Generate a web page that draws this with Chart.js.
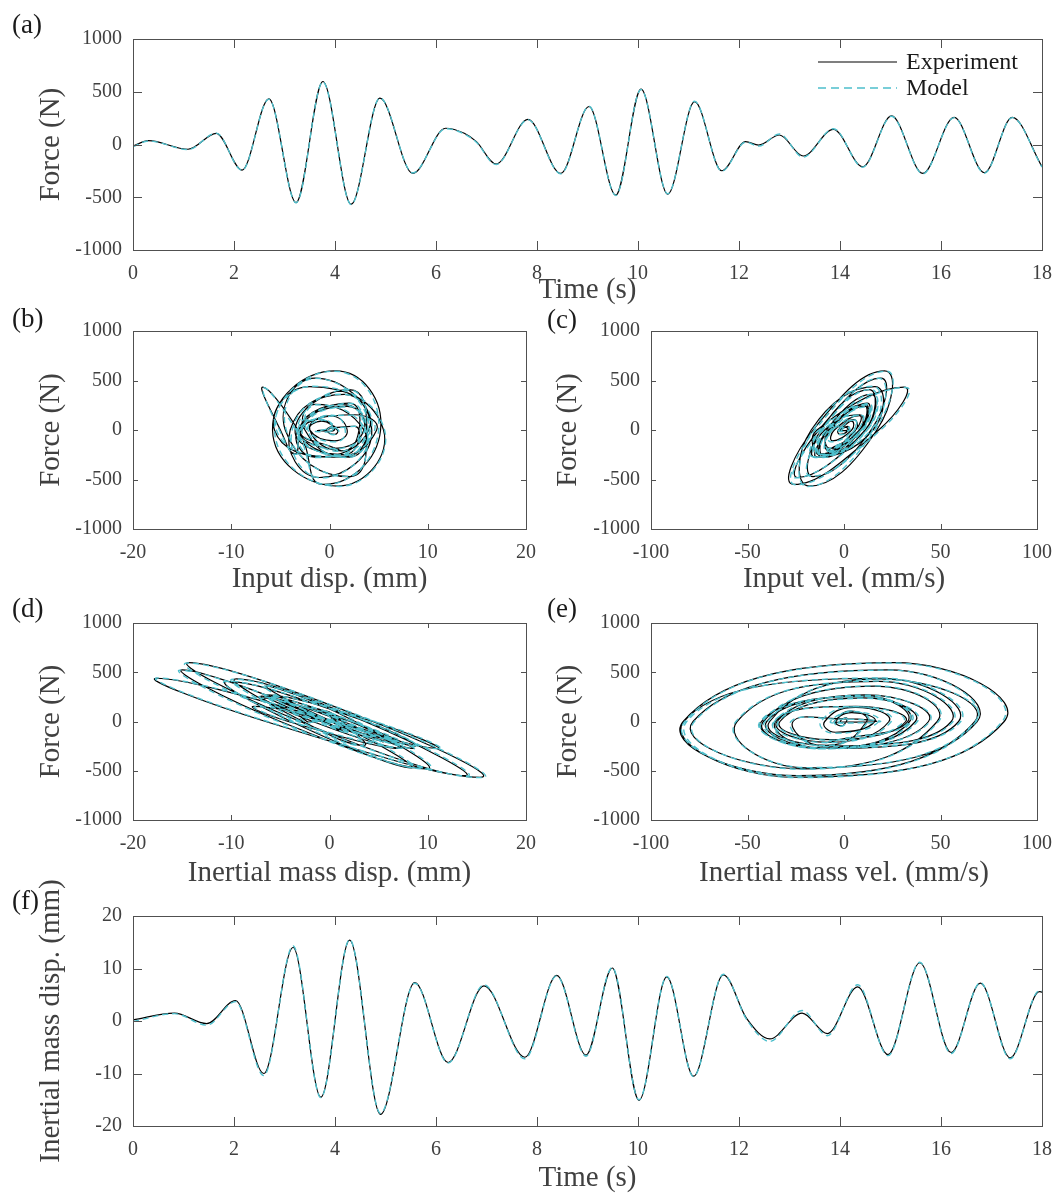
<!DOCTYPE html>
<html>
<head>
<meta charset="utf-8">
<script src="https://cdn.jsdelivr.net/npm/chart.js@4.4.1/dist/chart.umd.min.js"></script>
<style>
  body { margin: 0; background: #fff; }
  #fig { position: relative; width: 1064px; height: 1195px; overflow: hidden; }
  canvas { position: absolute; }
</style>
</head>
<body>
<div id="fig"></div>
<script>
// ---- (a) force time history: peaks / troughs
const tA = [0, 0.31, 1.09, 1.65, 2.16, 2.69, 3.23, 3.76, 4.32, 4.89, 5.54, 6.19, 6.56, 6.80, 7.19, 7.82,
  8.47, 9.03, 9.56, 10.06, 10.59, 11.12, 11.66, 12.13, 12.39, 12.80, 13.27, 13.87, 14.45, 15.02, 15.64,
  16.26, 16.86, 17.41, 18.0];
const forceExp = [-15, 36, -45, 106, -242, 433, -550, 597, -566, 439, -274, 154, 106, 27, -185, 239,
  -274, 360, -480, 525, -471, 407, -249, 27, -5, 90, -109, 144, -211, 271, -274,
  258, -268, 258, -211];
const forceMod = [-20, 34, -48, 108, -245, 430, -553, 594, -570, 442, -270, 150, 100, 22, -190, 236,
  -278, 362, -484, 522, -468, 410, -253, 22, -15, 100, -120, 150, -215, 268, -278,
  255, -272, 255, -214];

// ---- (f) inertial mass displacement time history
const tF = [0, 0.82, 1.46, 2.03, 2.59, 3.17, 3.72, 4.29, 4.90, 5.58, 6.24, 6.95, 7.76, 8.39, 8.97, 9.49,
  10.02, 10.57, 11.10, 11.69, 12.15, 12.61, 13.25, 13.75, 14.35, 14.95, 15.58, 16.20, 16.78, 17.37, 17.95, 18.0];
const dispExp = [0.2, 1.5, -0.5, 3.9, -10.0, 14.0, -14.5, 15.4, -17.8, 7.3, -7.9, 6.7, -6.9, 8.7, -6.5, 10.1,
  -15.1, 8.4, -10.5, 8.8, 0.5, -3.4, 1.5, -2.4, 6.5, -6.4, 11.1, -6.0, 7.2, -7.0, 5.6, 5.5];
const dispMod = [-0.1, 1.4, -0.8, 3.7, -10.4, 14.3, -14.6, 15.5, -17.6, 7.2, -8.0, 6.9, -7.2, 8.6, -6.7, 10.2,
  -15.0, 8.5, -10.6, 8.9, 0.3, -3.9, 2.0, -2.8, 6.9, -6.6, 11.2, -6.2, 7.3, -7.2, 5.8, 5.7];

// ---- (b)-(e) loops: force at each force extreme and at each zero crossing in between
const loopForceExp = [-15, 0, 36, 0, -45, 0, 106, 0, -242, 0, 433, 0, -550, 0, 597, 0, -566, 0, 439, 0,
  -274, 0, 154, 0, -185, 0, 239, 0, -274, 0, 360, 0, -480, 0, 525, 0, -471, 0, 407, 0,
  -249, 0, 27, 0, -5, 0, 90, 0, -109, 0, 144, 0, -211, 0, 271, 0, -274, 0, 258, 0, -268, 0, 258, 0, -211];
const loopForceMod = [-20, 0, 34, 0, -48, 0, 108, 0, -245, 0, 430, 0, -553, 0, 594, 0, -570, 0, 442, 0,
  -270, 0, 150, 0, -190, 0, 236, 0, -278, 0, 362, 0, -484, 0, 522, 0, -468, 0, 410, 0,
  -253, 0, 22, 0, -15, 0, 100, 0, -120, 0, 150, 0, -215, 0, 268, 0, -278, 0, 255, 0, -272, 0, 255, 0, -214];

// (b) input displacement (mm) at the same instants
const inDispExp = [0, 0.4, 0.5, -0.3, 0.5, 0.8, -1.2, -2.8, -3.5, -5.0, -6.8, -3.2, -0.6, 5.2, 0.6, -5.8, 0.9, 5.5, -2.0, -5.6,
  0.5, 4.8, 2.5, -3.0, 0.3, 3.5, 1.8, -3.2, -1.5, 4.0, 1.5, -4.0, -1.0, 4.3, -1.5, -4.5, 2.0, 3.8, 2.0, -3.5,
  1.5, 3.0, 0.8, -0.5, -1.2, 0.5, -0.8, -2.0, 0.5, 1.8, 0.0, -2.0, 1.2, 3.0, 2.0, -3.0, 2.0, 3.5, -1.5, -2.5, 1.5, 3.8, 1.2, -3.0, 1.2];
const inDispMod = [0, 0.3, 0.5, -0.2, 0.4, 0.9, -1.1, -2.9, -3.4, -5.1, -6.7, -3.4, -0.5, 5.0, 0.5, -5.6, 1.0, 5.6, -1.8, -5.4,
  0.6, 4.6, 2.3, -3.2, 0.4, 3.6, 2.0, -3.0, -1.3, 4.2, 1.3, -3.8, -0.8, 4.1, -1.4, -4.4, 1.8, 3.9, 1.8, -3.3,
  1.3, 3.2, 0.6, -0.7, -1.4, 0.3, -0.6, -2.2, 0.6, 1.6, 0.2, -2.2, 1.0, 3.2, 2.2, -3.2, 1.8, 3.7, -1.3, -2.3, 1.4, 3.6, 1.4, -2.8, 1.0];

// (c) input velocity (mm/s)
const inVelExp = [-1, -1.5, 2, 2.5, -2, -3, 5, 6, -12, -14, 31, 18, -26, -16, 21, 17, -18, -17, 16, 15,
  -15, -10, 8, 8, -7, -8, 11, 9, -10, -9, 14, 11, -24, -13, 19, 14, -16, -12, 13, 11,
  -13, -8, 1, 2, -1, -2, 4, 4, -6, -5, 8, 6, -8, -7, 12, 8, -14, -8, 10, 8, -12, -8, 11, 8, -9];
const inVelMod = [-1, -1.3, 2, 2.8, -2, -2.6, 5, 5.5, -12, -13, 32, 19, -25, -15, 22, 16, -19, -16, 15, 14,
  -16, -11, 9, 7, -8, -7, 12, 10, -11, -8, 15, 12, -25, -12, 18, 15, -17, -11, 14, 12,
  -12, -9, 2, 3, -2, -3, 5, 5, -7, -6, 9, 7, -9, -6, 13, 9, -15, -9, 11, 9, -13, -9, 12, 9, -10];

// (d) inertial mass displacement (mm)
const massDispExp = [0.2, 0.3, 0.6, 0.9, 1.2, 0.6, -0.3, 1.3, 3.5, -2.7, -9.5, 3.6, 13.8, -3.0, -14.3, 4.4, 15.3, -6.5, -17.6, 0.5,
  7.0, -4.2, -7.7, 0.5, 6.5, -0.9, -6.8, 2.1, 8.5, 0.3, -6.4, 2.6, 9.9, -5.0, -15.0, 0.1, 8.3, -3.9, -10.4, 3.7,
  8.7, 0.6, 0.8, -1.2, -2.0, -2.3, -3.3, -0.5, 1.5, -0.6, -2.3, 2.2, 6.3, -0.7, -6.3, 4.4, 11.0, 0.3, -5.9, 2.1, 7.1, -1.7, -6.9, 1.4, 5.5];
const massDispMod = [0.0, 0.2, 0.5, 0.9, 1.0, 0.5, -0.5, 1.2, 3.3, -2.9, -9.8, 3.8, 14.0, -3.2, -14.5, 4.6, 15.5, -6.3, -17.5, 0.7,
  7.2, -4.0, -7.5, 0.7, 6.7, -1.1, -6.9, 2.3, 8.6, 0.1, -6.6, 2.8, 10.1, -5.2, -15.2, 0.3, 8.5, -3.7, -10.5, 3.9,
  8.8, 0.4, 0.6, -1.4, -2.4, -2.6, -3.7, -0.3, 1.9, -0.8, -2.7, 2.4, 6.6, -0.9, -6.4, 4.6, 11.2, 0.1, -6.0, 2.3, 7.3, -1.5, -7.1, 1.6, 5.4];

// (e) inertial mass velocity (mm/s)
const massVelExp = [-0.5, -2.0, 1.2, 1.2, -1.5, -4.2, 3.5, 11.7, -9, -38.5, 18, 67.8, -24, -83.3, 26, 83.0, -25, -83.0, 19, 59.4,
  -11, -35.5, 6, 32, -7, -33.2, 10, 37, -11, -41.8, 16, 48.3, -21, -78.2, 23, 69, -20, -55.4, 18, 55.6,
  -10, -26.4, 1, 17, -0.2, -5, 4, 16, -4.5, -10, 6, 23.3, -8, -34.7, 11, 43.8, -11, -42.8, 10.5, 34, -11, -40, 10.5, 33, -8.5];
const massVelMod = [-0.3, -2.5, 1.0, 1.6, -1.8, -4.8, 3.8, 12.5, -9.5, -39.5, 18.5, 68.5, -23.5, -82.5, 25.5, 82.0, -24.5, -81.5, 19.5, 60.5,
  -11.5, -36.5, 6.5, 31, -7.5, -34, 10.5, 38, -11.5, -42.5, 16.5, 49, -21.5, -77.5, 23.5, 68, -19.5, -56, 18.5, 56.5,
  -10.5, -27.5, 1.5, 19, -0.5, -7, 4.5, 18, -5, -12, 6.5, 24.5, -8.5, -36, 11.5, 44.5, -11.5, -43.5, 11, 35, -11.5, -41, 11, 34, -9];

const SERIF = '"Liberation Serif", "Times New Roman", serif';
const EXP_COLOR = '#000000';
const MOD_COLOR = '#4dbfcc';
const AXIS_COLOR = '#505050';
const TEXT_COLOR = '#404040';

function pairs(xs, ys) {
  return xs.map((v, i) => ({x: v, y: ys[i]}));
}

// box, inward ticks on all four sides, panel letter and legend
const framePlugin = {
  id: 'frame',
  afterDraw(chart, args, o) {
    const {ctx, chartArea: a} = chart;
    const xs = chart.scales.x, ys = chart.scales.y;
    ctx.save();
    ctx.strokeStyle = AXIS_COLOR;
    ctx.lineWidth = 1;
    ctx.setLineDash([]);
    ctx.beginPath();
    xs.ticks.forEach(t => {
      const p = Math.round(xs.getPixelForValue(t.value)) + 0.5;
      ctx.moveTo(p, a.bottom); ctx.lineTo(p, a.bottom - o.tick);
      ctx.moveTo(p, a.top); ctx.lineTo(p, a.top + o.tick);
    });
    ys.ticks.forEach(t => {
      const p = Math.round(ys.getPixelForValue(t.value)) + 0.5;
      ctx.moveTo(a.left, p); ctx.lineTo(a.left + o.tick, p);
      ctx.moveTo(a.right, p); ctx.lineTo(a.right - o.tick, p);
    });
    ctx.stroke();
    ctx.strokeRect(a.left + 0.5, a.top + 0.5, a.right - a.left, a.bottom - a.top);

    ctx.fillStyle = '#1a1a1a';
    ctx.textBaseline = 'middle';
    ctx.textAlign = 'left';
    ctx.font = '27px ' + SERIF;
    ctx.fillText(o.label, o.lx, o.ly);

    if (o.legend) {
      const L = o.legend;
      const ds = chart.data.datasets;
      ctx.font = '24px ' + SERIF;
      ds.forEach((d, i) => {
        const y = L.y + i * L.gap;
        ctx.strokeStyle = d.borderColor;
        ctx.lineWidth = d.borderWidth;
        ctx.setLineDash(i === 0 ? [] : [8, 5]);
        ctx.beginPath();
        ctx.moveTo(L.x, y); ctx.lineTo(L.x + L.len, y);
        ctx.stroke();
        ctx.fillStyle = '#1a1a1a';
        ctx.fillText(d.label, L.x + L.len + 9, y + 1);
      });
    }
    ctx.restore();
  }
};

function panel(p) {
  const c = document.createElement('canvas');
  c.width = p.rect[2]; c.height = p.rect[3];
  c.style.left = p.rect[0] + 'px'; c.style.top = p.rect[1] + 'px';
  c.style.width = p.rect[2] + 'px'; c.style.height = p.rect[3] + 'px';
  document.getElementById('fig').appendChild(c);

  const [cl, ct, cw, ch] = p.rect;
  const [x0, y0, x1, y1] = p.area;
  const yAxisW = x0 - cl;
  const xAxisH = ct + ch - y1;
  const titleH = 29 * 1.2;

  const tickFont = {family: SERIF, size: 20};
  const titleFont = {family: SERIF, size: 29};

  const exp = {
    label: 'Experiment', data: p.exp, borderColor: EXP_COLOR, borderWidth: 1.2,
    pointRadius: 0, order: 2
  };
  const mod = {
    label: 'Model', data: p.mod, borderColor: MOD_COLOR, borderWidth: 1.4,
    borderDash: [6, 4], pointRadius: 0, order: 1
  };
  [exp, mod].forEach(d => {
    if (p.kind === 'time') { d.cubicInterpolationMode = 'monotone'; }
    else { d.showLine = true; d.tension = 0.55; }
  });

  new Chart(c, {
    type: p.kind === 'time' ? 'line' : 'scatter',
    data: {datasets: [exp, mod]},
    options: {
      responsive: false,
      animation: false,
      events: [],
      layout: {padding: {left: 0, top: y0 - ct, right: cl + cw - x1, bottom: 0}},
      plugins: {
        legend: {display: false},
        tooltip: {enabled: false},
        frame: {tick: p.tick, label: p.label, lx: p.lab[0], ly: p.lab[1], legend: p.legend}
      },
      scales: {
        x: {
          type: 'linear', min: p.xr[0], max: p.xr[1],
          grid: {display: false, drawTicks: false},
          border: {display: false},
          ticks: {stepSize: p.xr[2], autoSkip: false, maxRotation: 0, padding: 12,
            font: tickFont, color: TEXT_COLOR, callback: v => String(v)},
          title: {display: true, text: p.xt, font: titleFont, color: TEXT_COLOR,
            padding: {top: 0, bottom: (ct + ch - p.xtY) - titleH / 2}},
          afterFit: s => { s.height = xAxisH; }
        },
        y: {
          type: 'linear', min: p.yr[0], max: p.yr[1],
          grid: {display: false, drawTicks: false},
          border: {display: false},
          ticks: {stepSize: p.yr[2], autoSkip: false, padding: 11,
            font: tickFont, color: TEXT_COLOR, callback: v => String(v)},
          title: {display: true, text: p.yt, font: titleFont, color: TEXT_COLOR,
            padding: {top: (p.ytX - cl) - titleH / 2, bottom: 0}},
          afterFit: s => { s.width = yAxisW; }
        }
      }
    },
    plugins: [framePlugin]
  });
}

const forceRange = [-1000, 1000, 500];

panel({
  kind: 'time', label: '(a)', lab: [12, 26],
  rect: [0, 0, 1064, 325], area: [133, 39, 1043, 250], tick: 9,
  xr: [0, 18, 2], yr: forceRange, xt: 'Time (s)', yt: 'Force (N)', xtY: 290.5, ytX: 51,
  exp: pairs(tA, forceExp), mod: pairs(tA, forceMod),
  legend: {x: 818, y: 62, gap: 26, len: 79}
});
panel({
  kind: 'loop', label: '(b)', lab: [12, 30],
  rect: [0, 290, 560, 314], area: [133, 331, 526, 529], tick: 5,
  xr: [-20, 20, 10], yr: forceRange, xt: 'Input disp. (mm)', yt: 'Force (N)', xtY: 579.5, ytX: 51,
  exp: pairs(inDispExp, loopForceExp), mod: pairs(inDispMod, loopForceMod)
});
panel({
  kind: 'loop', label: '(c)', lab: [29, 31],
  rect: [518, 290, 546, 314], area: [651, 331, 1043, 529], tick: 5,
  xr: [-100, 100, 50], yr: forceRange, xt: 'Input vel. (mm/s)', yt: 'Force (N)', xtY: 579.5, ytX: 568,
  exp: pairs(inVelExp, loopForceExp), mod: pairs(inVelMod, loopForceMod)
});
panel({
  kind: 'loop', label: '(d)', lab: [12, 27],
  rect: [0, 583, 560, 312], area: [133, 623, 526, 820], tick: 5,
  xr: [-20, 20, 10], yr: forceRange, xt: 'Inertial mass disp. (mm)', yt: 'Force (N)', xtY: 873, ytX: 51,
  exp: pairs(massDispExp, loopForceExp), mod: pairs(massDispMod, loopForceMod)
});
panel({
  kind: 'loop', label: '(e)', lab: [29, 27],
  rect: [518, 583, 546, 312], area: [651, 623, 1043, 820], tick: 5,
  xr: [-100, 100, 50], yr: forceRange, xt: 'Inertial mass vel. (mm/s)', yt: 'Force (N)', xtY: 873, ytX: 568,
  exp: pairs(massVelExp, loopForceExp), mod: pairs(massVelMod, loopForceMod)
});
panel({
  kind: 'time', label: '(f)', lab: [12, 26],
  rect: [0, 876, 1064, 319], area: [133, 916, 1043, 1126], tick: 9,
  xr: [0, 18, 2], yr: [-20, 20, 10], xt: 'Time (s)', yt: 'Inertial mass disp. (mm)', xtY: 1178, ytX: 51.6,
  exp: pairs(tF, dispExp), mod: pairs(tF, dispMod)
});
</script>
</body>
</html>
